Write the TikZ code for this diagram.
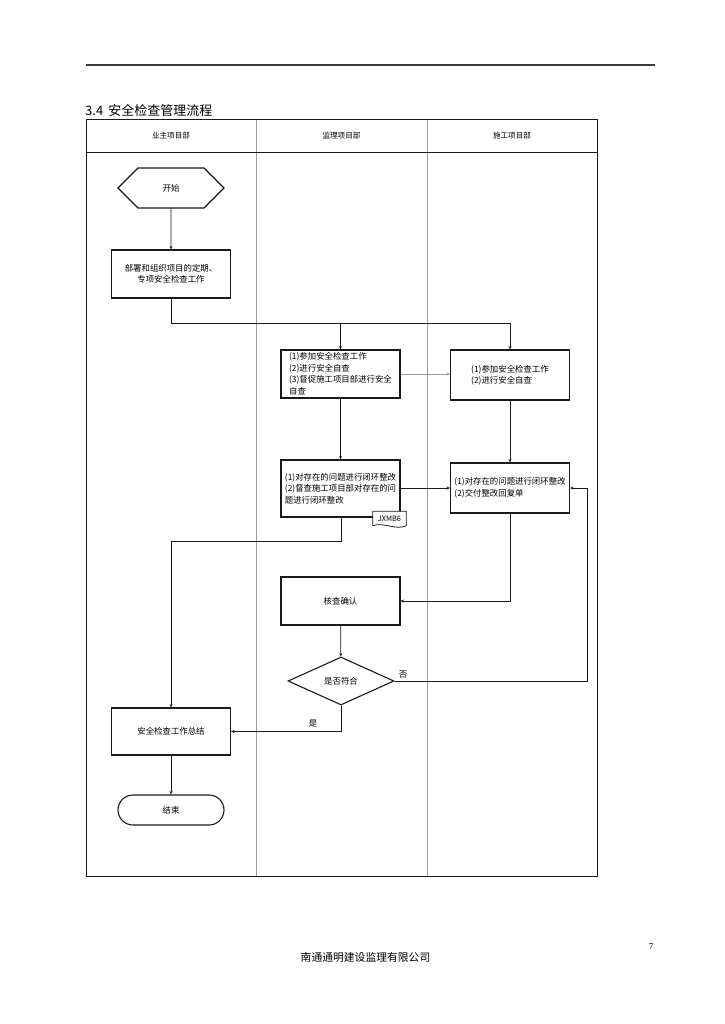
\documentclass[tikz,border=0pt]{standalone}
\usepackage{fontspec}
\setmainfont{Noto Sans CJK SC}
\newfontfamily\pagefont{Liberation Serif}
\usetikzlibrary{arrows.meta,shapes.geometric,shapes.symbols}
\definecolor{rule}{HTML}{3A3A3A}
\definecolor{laneline}{HTML}{9C9C9C}
\definecolor{ink}{HTML}{1A1A1A}
\newcommand\flowfont{\fontsize{8.4}{11.5}\selectfont}
\tikzset{
  stepbox/.style={rectangle, draw=ink, line width=1.1pt, fill=white, align=center,
    minimum width=119pt, minimum height=#1, inner sep=2pt, font=\flowfont},
  stepbox/.default=48pt,
  terminal/.style={draw=ink, line width=1.1pt, fill=white, minimum width=106pt,
    inner sep=0pt, font=\flowfont},
  decision/.style={diamond, draw=ink, line width=1.1pt, fill=white, aspect=2.2,
    minimum width=106pt, minimum height=48pt, inner sep=0pt, font=\flowfont},
  lanehead/.style={font=\fontsize{7.6}{9}\selectfont},
  lbl/.style={font=\flowfont, inner sep=1pt},
  wire/.style={line width=0.7pt, ink, -{Stealth[length=3.5pt,width=3pt]}}
}

\begin{document}
\begin{tikzpicture}[x=1pt,y=-1pt]

\def\TL{86}    % table left
\def\TR{597}   % table right
\def\TT{120}   % table top
\def\TB{876}   % table bottom
\def\HB{152}   % bottom of lane heads

\useasboundingbox[fill=white] (0,0) rectangle (724,1024);

%--- Page head ---

\draw[rule, line width=1.6pt] (86,65) -- (655,65);
\node[anchor=west, inner sep=0pt, font=\fontsize{13}{15}\selectfont] (title) at (85,110) {3.4\, 安全检查管理流程};

%--- Swimlane table ---

\draw[laneline, line width=0.9pt] (256,\TT) -- (256,\TB);
\draw[laneline, line width=0.9pt] (427,\TT) -- (427,\TB);
\draw[ink, line width=0.9pt] (\TL,\HB) -- (\TR,\HB);
\draw[ink, line width=1pt] (\TL,\TT) rectangle (\TR,\TB);

\node[lanehead] (ownerlane) at (171,136) {业主项目部};
\node[lanehead] (superlane) at (341.5,136) {监理项目部};
\node[lanehead] (buildlane) at (512,136) {施工项目部};

%--- Flow nodes ---

\node[terminal, signal, signal to=west and east, minimum height=40pt] (start) at (171,188) {开始};
\node[stepbox] (plan) at (171,274) {部署和组织项目的定期、\\专项安全检查工作};

\node[stepbox, align=left] (jlcheck) at (340.5,374)
  {(1)参加安全检查工作\\(2)进行安全自查\\(3)督促施工项目部进行安全\\自查};
\node[stepbox, minimum height=50pt, align=left] (sgcheck) at (510,375)
  {(1)参加安全检查工作\\(2)进行安全自查};

\node[stepbox, minimum height=57pt, align=left] (jlfix) at (340.5,488.5)
  {(1)对存在的问题进行闭环整改\\(2)督查施工项目部对存在的问\\题进行闭环整改};
\node[stepbox, minimum height=50pt, align=left] (sgfix) at (510,488)
  {(1)对存在的问题进行闭环整改\\(2)交付整改回复单};

% form tag under the supervision box
\node[minimum width=33pt, minimum height=14pt, inner sep=0pt,
  font=\fontsize{7.4}{8}\selectfont] (tag) at (389.5,518.5) {JXMB6};
\draw[ink, line width=0.8pt, fill=white] (tag.south west) -- (tag.north west) -- (tag.north east)
  -- (tag.south east) .. controls ([xshift=-10pt,yshift=-5pt]tag.south east)
  and ([xshift=10pt,yshift=4pt]tag.south west) .. (tag.south west);
\node[minimum width=33pt, minimum height=14pt, inner sep=0pt,
  font=\fontsize{7.4}{8}\selectfont] at (tag) {JXMB6};

\node[stepbox] (verify) at (340.5,601) {核查确认};
\node[decision] (ok) at (341,681) {是否符合};

\node[stepbox, minimum height=47pt] (summary) at (171,731.5) {安全检查工作总结};
\node[terminal, rectangle, rounded corners=15pt, minimum height=30pt] (end) at (171,810) {结束};

%--- Connectors ---

\coordinate (fork) at (171,323);
\coordinate (back) at (341,541);
\coordinate (loopback) at (587,681);

\draw[wire] (start) -- (plan);
\draw[wire] (plan.south) -- (fork) -| (sgcheck.north);
\draw[wire] (jlcheck.north |- fork) -- (jlcheck.north);
\draw[wire, laneline] (jlcheck.east) -- (jlcheck.east -| sgcheck.west);
\draw[wire] (jlcheck) -- (jlfix);
\draw[wire] (sgcheck) -- (sgfix);
\draw[wire] (jlfix.east |- sgfix.west) -- (sgfix.west);
\draw[wire] (sgfix.south) |- (verify.east);
\draw[wire] (verify) -- (ok);
\draw[wire] (ok.east) -- (loopback) |- (sgfix.east);
\draw[wire] (ok.south) |- (summary.east);
\draw[wire] (jlfix.south -| back) -- (back) -| (summary.north);
\draw[wire] (summary) -- (end);

\node[lbl] (nolbl) at (403,675) {否};
\node[lbl] (yeslbl) at (313,723) {是};

%--- Page foot ---

\node[font=\fontsize{10.8}{12}\selectfont] (footer) at (365.5,957) {南通通明建设监理有限公司};
\node[font=\pagefont\fontsize{9}{10}\selectfont] (pageno) at (651,947) {7};

\end{tikzpicture}
\end{document}
